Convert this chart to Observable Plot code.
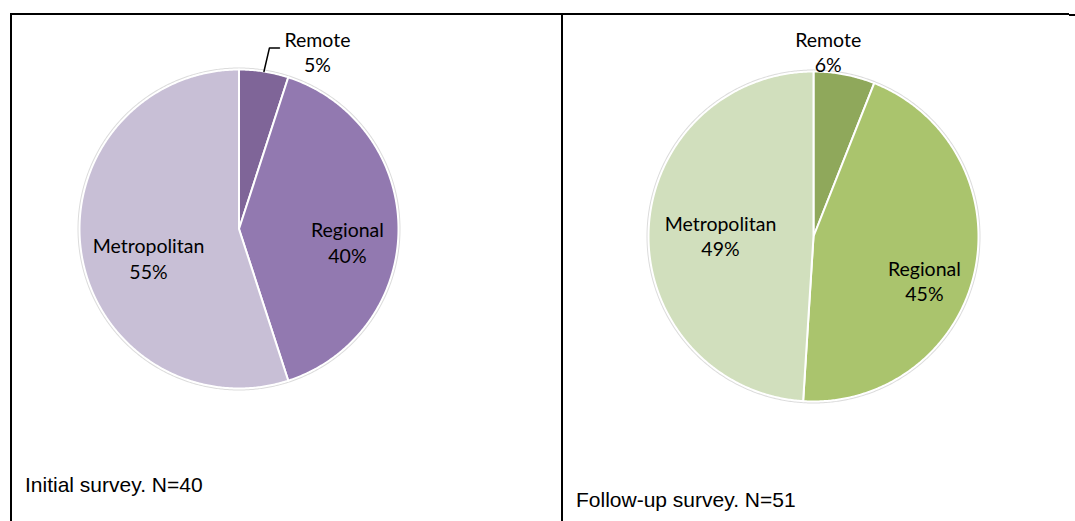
<!DOCTYPE html>
<html><head><meta charset="utf-8">
<script src="https://cdn.jsdelivr.net/npm/d3@7"></script>
<script src="https://cdn.jsdelivr.net/npm/@observablehq/plot@0.6"></script>
<style>
body{margin:0;background:#fff;}
#page{position:relative;width:1075px;height:521px;overflow:hidden;background:#fff;}
.rule{position:absolute;background:#000;}
.cap{position:absolute;font-family:"Liberation Sans",Arial,sans-serif;font-size:21px;line-height:1;color:#000;white-space:nowrap;}
.pie{position:absolute;}
.pie svg{overflow:visible;}
</style></head><body>
<div id="page">
  <div class="rule" style="left:10px;top:13px;width:1059px;height:2px"></div>
  <div class="rule" style="left:1069px;top:14px;width:6px;height:2px"></div>
  <div class="rule" style="left:10px;top:13px;width:2px;height:508px"></div>
  <div class="rule" style="left:561px;top:13px;width:2px;height:508px"></div>
  <div class="pie" id="pieA"></div>
  <div class="pie" id="pieB"></div>
  <div class="cap" id="capA"></div>
  <div class="cap" id="capB"></div>
</div>
<script>
// ---- data ----
const categories = ["Remote", "Regional", "Metropolitan"];
const initialValues = [5, 40, 55];     // Initial survey, % (N=40)
const followUpValues = [6, 45, 49];    // Follow-up survey, % (N=51)
const captionA = "Initial survey. N=40";
const captionB = "Follow-up survey. N=51";

// ---- styles / layout ----
const purple = ["#7f6598", "#9279b0", "#c8bfd6"];
const green = ["#8fa85b", "#aac46d", "#d1dfbd"];
const layoutA = {cx: 238.5, cy: 228, r: 159.5, m: 45,
  labels: [{rad: 1.2, nudge: 15.2}, {rad: 0.687, nudge: 8.4}, {rad: 0.602, nudge: -10.5}],
  leader: {slice: 0, elbow: [-48, -6.5], end: [-38, -6.5]}};
const layoutB = {cx: 813, cy: 236, r: 165, m: 45,
  labels: [{rad: 1.109, nudge: -6.2}, {rad: 0.729, nudge: 10.2}, {rad: 0.564, nudge: -3}],
  leader: null};

function pieChart(values, colors, L) {
  const R = L.r, M = L.m, size = 2 * R + 2 * M;
  const arcs = d3.pie().sort(null).value(d => d)(values);
  const pts = [];
  arcs.forEach((a, i) => {
    const cat = categories[i];
    pts.push({cat, x: 0, y: 0});
    const n = Math.max(2, Math.ceil((a.endAngle - a.startAngle) / (Math.PI / 360)));
    for (let j = 0; j <= n; j++) {
      const t = a.startAngle + (a.endAngle - a.startAngle) * j / n;
      pts.push({cat, x: Math.sin(t), y: Math.cos(t)});
    }
    pts.push({cat, x: 0, y: 0});
  });
  const circle = d3.range(0, 721).map(j => ({x: Math.sin(j * Math.PI / 360), y: Math.cos(j * Math.PI / 360)}));
  const labels = arcs.map((a, i) => {
    const t = (a.startAngle + a.endAngle) / 2 + L.labels[i].nudge * Math.PI / 180;
    const k = L.labels[i].rad;
    return {x: k * Math.sin(t), y: k * Math.cos(t), text: `${categories[i]}\n${values[i]}%`};
  });
  const marks = [
    Plot.line(circle, {x: "x", y: "y", stroke: "#dcdcdc", strokeWidth: 4}),
    Plot.line(pts, {x: "x", y: "y", z: "cat", fill: "cat", stroke: "white", strokeWidth: 2, strokeLinejoin: "round"}),
    Plot.text(labels, {x: "x", y: "y", text: "text", lineHeight: 1.3, fill: "black", fontSize: 19.5, dy: -3})
  ];
  if (L.leader) {
    const a = arcs[L.leader.slice];
    const t = (a.startAngle + a.endAngle) / 2;
    const lab = labels[L.leader.slice];
    const leader = [
      {x: Math.sin(t), y: Math.cos(t)},
      {x: lab.x + L.leader.elbow[0] / R, y: lab.y - L.leader.elbow[1] / R},
      {x: lab.x + L.leader.end[0] / R, y: lab.y - L.leader.end[1] / R}
    ];
    marks.push(Plot.line(leader, {x: "x", y: "y", stroke: "black", strokeWidth: 1.5}));
  }
  return Plot.plot({
    width: size, height: size, margin: M,
    x: {domain: [-1, 1], axis: null},
    y: {domain: [-1, 1], axis: null},
    color: {domain: categories, range: colors},
    style: {fontFamily: "Lato, 'Open Sans', sans-serif", fontSize: "19.5px", background: "transparent", overflow: "visible"},
    marks
  });
}

function place(id, L, values, colors) {
  const el = document.getElementById(id);
  el.style.left = (L.cx - L.r - L.m) + "px";
  el.style.top = (L.cy - L.r - L.m) + "px";
  el.appendChild(pieChart(values, colors, L));
}
place("pieA", layoutA, initialValues, purple);
place("pieB", layoutB, followUpValues, green);

const capA = document.getElementById("capA");
capA.textContent = captionA; capA.style.left = "25px"; capA.style.top = "474px";
const capB = document.getElementById("capB");
capB.textContent = captionB; capB.style.left = "576px"; capB.style.top = "489px";
</script>
</body></html>
